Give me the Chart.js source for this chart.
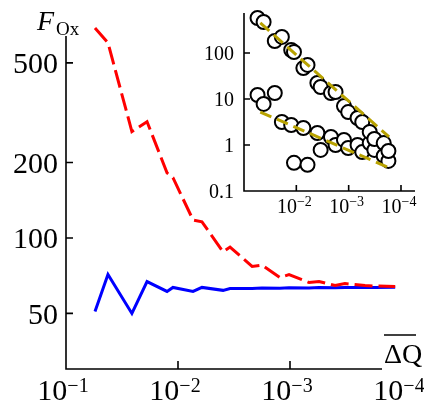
<!DOCTYPE html>
<html>
<head>
<meta charset="utf-8">
<script src="https://cdn.jsdelivr.net/npm/chart.js@4.4.0/dist/chart.umd.min.js"></script>
<style>
  body { margin: 0; background: #fff; }
  #wrap { position: relative; width: 424px; height: 410px; }
  canvas { position: absolute; left: 0; top: 0; }
</style>
</head>
<body>
<div id="wrap">
  <canvas id="mainChart" width="424" height="410"></canvas>
  <canvas id="insetChart" width="424" height="410"></canvas>
</div>
<script>
// x values (ΔQ), shared by the main plot and the inset
const dq = [0.0551, 0.0422, 0.0258, 0.0189, 0.01253, 0.01109, 0.00734, 0.00611,
  0.00396, 0.00343, 0.00218, 0.00178, 0.00123, 0.00102, 0.000676, 0.00055,
  0.000396, 0.000323, 0.000214, 0.000174, 0.000115];

// main plot: F_Ox
const fOxRed = [689, 601, 266, 291, 182, 174, 118, 116, 88, 92, 77, 78,
  69.5, 71.5, 66.4, 67, 64.6, 65.8, 64.6, 64.3, 64.1];
const fOxBlue = [50.9, 71.5, 50.0, 67.0, 61.2, 63.5, 61.2, 63.5, 61.8, 62.9, 62.9,
  63.2, 63.0, 63.3, 63.2, 63.4, 63.3, 63.4, 63.4, 63.5, 63.6];

// inset: two sets of circles and their fitted lines
const insetUpper = [576, 472, 182, 223, 116, 105, 47, 55, 22.3, 18.2, 13.5, 14.2,
  7.0, 5.2, 3.86, 3.16, 1.92, 1.35, 1.10, 0.74];
const insetLower = [12.2, 7.8, 13.5, 3.16, 2.72, 0.41, 2.34, 0.37, 1.82, 0.78, 1.49,
  1.0, 1.29, 0.86, 1.0, 0.70, 1.10, 0.78, 0.58, 0.45];
const fitDq = [0.0488, 0.000169];
const fitUpper = [449, 1.5];
const fitLower = [5.2, 0.32];

// ticks
const mainXTicks = [1e-1, 1e-2, 1e-3, 1e-4];
const mainXExp = ["−1", "−2", "−3", "−4"];
const mainYTicks = [50, 100, 200, 500];
const insetXTicks = [1e-2, 1e-3, 1e-4];
const insetXExp = ["−2", "−3", "−4"];
const insetYTicks = [0.1, 1, 10, 100];
const insetYLabels = ["0.1", "1", "10", "100"];

const FONT = '"Liberation Serif", "Times New Roman", serif';

const pairs = (xs, ys) => ys.map((v, i) => ({ x: xs[i], y: v }));

function drawPow(ctx, xc, exp, size, supSize, baseline, rise) {
  ctx.font = size + "px " + FONT;
  const w1 = ctx.measureText("10").width;
  ctx.font = supSize + "px " + FONT;
  const w2 = ctx.measureText(exp).width;
  const left = xc - (w1 + w2) / 2;
  ctx.font = size + "px " + FONT;
  ctx.fillText("10", left, baseline);
  ctx.font = supSize + "px " + FONT;
  ctx.fillText(exp, left + w1, baseline - rise);
}

const mainFrame = {
  id: "mainFrame",
  afterDraw(chart) {
    const { ctx, chartArea: a } = chart;
    const x = chart.scales.x;
    const y = chart.scales.y;
    ctx.save();
    ctx.strokeStyle = "#000";
    ctx.lineWidth = 1.6;
    ctx.beginPath();
    ctx.moveTo(a.left, a.top);
    ctx.lineTo(a.left, a.bottom);
    ctx.lineTo(a.right - 20, a.bottom);
    ctx.stroke();
    // inward ticks
    ctx.beginPath();
    mainYTicks.forEach((v) => {
      const py = y.getPixelForValue(v);
      ctx.moveTo(a.left, py);
      ctx.lineTo(a.left + 7, py);
    });
    mainXTicks.slice(1, 3).forEach((v) => {
      const px = x.getPixelForValue(v);
      ctx.moveTo(px, a.bottom);
      ctx.lineTo(px, a.bottom - 8);
    });
    ctx.stroke();
    ctx.fillStyle = "#000";
    ctx.textAlign = "right";
    ctx.textBaseline = "alphabetic";
    ctx.font = "30px " + FONT;
    mainYTicks.forEach((v) => {
      ctx.fillText(String(v), a.left - 8, y.getPixelForValue(v) + 10.5);
    });
    ctx.textAlign = "left";
    mainXTicks.forEach((v, i) => {
      drawPow(ctx, x.getPixelForValue(v) - 3, mainXExp[i], 30, 20, 400, 8);
    });
    // axis titles
    ctx.font = "italic 28px " + FONT;
    ctx.fillText("F", 37, 30);
    ctx.font = "19px " + FONT;
    ctx.fillText("Ox", 56, 35);
    ctx.font = "28px " + FONT;
    ctx.fillText("ΔQ", 384, 363);
    ctx.beginPath();
    ctx.lineWidth = 1.5;
    ctx.moveTo(384, 335);
    ctx.lineTo(416, 335);
    ctx.stroke();
    ctx.restore();
  }
};

const insetFrame = {
  id: "insetFrame",
  afterDraw(chart) {
    const { ctx, chartArea: a } = chart;
    const x = chart.scales.x;
    const y = chart.scales.y;
    ctx.save();
    ctx.strokeStyle = "#000";
    ctx.lineWidth = 1.6;
    ctx.beginPath();
    ctx.moveTo(a.left, a.top);
    ctx.lineTo(a.left, a.bottom);
    ctx.lineTo(a.right, a.bottom);
    ctx.stroke();
    ctx.beginPath();
    insetYTicks.slice(1).forEach((v) => {
      const py = y.getPixelForValue(v);
      ctx.moveTo(a.left, py);
      ctx.lineTo(a.left + 6, py);
    });
    insetXTicks.forEach((v) => {
      const px = x.getPixelForValue(v);
      ctx.moveTo(px, a.bottom);
      ctx.lineTo(px, a.bottom - 6);
    });
    ctx.stroke();
    ctx.fillStyle = "#000";
    ctx.textAlign = "right";
    ctx.font = "20px " + FONT;
    insetYTicks.forEach((v, i) => {
      ctx.fillText(insetYLabels[i], a.left - 10, y.getPixelForValue(v) + 7);
    });
    ctx.textAlign = "left";
    insetXTicks.forEach((v, i) => {
      drawPow(ctx, x.getPixelForValue(v) - 2, insetXExp[i], 20, 14, 213, 7);
    });
    ctx.restore();
  }
};

new Chart(document.getElementById("mainChart"), {
  type: "scatter",
  data: {
    datasets: [
      {
        data: pairs(dq, fOxRed),
        showLine: true,
        borderColor: "#ff0000",
        borderWidth: 3,
        borderDash: [18, 6],
        pointRadius: 0,
        clip: false,
      },
      {
        data: pairs(dq, fOxBlue),
        showLine: true,
        borderColor: "#0000ff",
        borderWidth: 3,
        pointRadius: 0,
        clip: false,
      },
    ],
  },
  options: {
    responsive: false,
    animation: false,
    devicePixelRatio: 1,
    layout: { padding: { left: 66, top: 36, right: 22, bottom: 41 } },
    plugins: { legend: { display: false }, tooltip: { enabled: false } },
    scales: {
      x: { type: "logarithmic", reverse: true, min: 1e-4, max: 0.1, display: false },
      y: { type: "logarithmic", min: 30, max: 640, display: false },
    },
  },
  plugins: [mainFrame],
});

new Chart(document.getElementById("insetChart"), {
  type: "scatter",
  data: {
    datasets: [
      {
        data: pairs(fitDq, fitUpper),
        showLine: true,
        borderColor: "#b8a200",
        borderWidth: 3,
        borderDash: [12, 6],
        pointRadius: 0,
        order: 0,
      },
      {
        data: pairs(fitDq, fitLower),
        showLine: true,
        borderColor: "#b8a200",
        borderWidth: 3,
        borderDash: [12, 6],
        pointRadius: 0,
        order: 0,
      },
      {
        data: pairs(dq, insetUpper),
        pointRadius: 7,
        pointBorderWidth: 2,
        pointBorderColor: "#000",
        pointBackgroundColor: "#fff",
        order: 1,
        clip: false,
      },
      {
        data: pairs(dq, insetLower),
        pointRadius: 7,
        pointBorderWidth: 2,
        pointBorderColor: "#000",
        pointBackgroundColor: "#fff",
        order: 1,
        clip: false,
      },
    ],
  },
  options: {
    responsive: false,
    animation: false,
    devicePixelRatio: 1,
    layout: { padding: { left: 244, top: 13, right: 2, bottom: 219 } },
    plugins: { legend: { display: false }, tooltip: { enabled: false } },
    scales: {
      x: { type: "logarithmic", reverse: true, min: 5.4e-5, max: 0.1, display: false },
      y: { type: "logarithmic", min: 0.1, max: 740, display: false },
    },
  },
  plugins: [insetFrame],
});
</script>
</body>
</html>
